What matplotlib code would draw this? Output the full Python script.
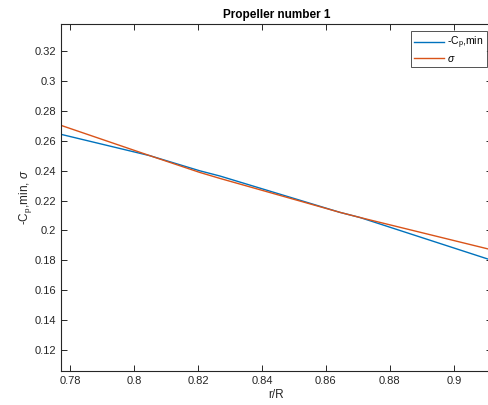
import matplotlib
matplotlib.use("Agg")
import matplotlib.pyplot as plt

plt.rcParams['font.family'] = ['Liberation Sans', 'DejaVu Sans']
plt.rcParams['mathtext.fontset'] = 'custom'
plt.rcParams['mathtext.rm'] = 'Liberation Sans'
plt.rcParams['mathtext.it'] = 'Liberation Sans:italic'

r = [0.7772, 0.805, 0.8206, 0.8269, 0.8644, 0.8706, 0.9119]
cp_min = [0.2643, 0.2500, 0.2399, 0.2364, 0.2121, 0.2087, 0.1800]
sigma = [0.2703, 0.2500, 0.2388, 0.2348, 0.2121, 0.2087, 0.1870]

xticks = [0.78, 0.80, 0.82, 0.84, 0.86, 0.88, 0.90]
xticklabels = ['0.78', '0.8', '0.82', '0.84', '0.86', '0.88', '0.9']
yticks = [0.12, 0.14, 0.16, 0.18, 0.20, 0.22, 0.24, 0.26, 0.28, 0.30, 0.32]
yticklabels = ['0.12', '0.14', '0.16', '0.18', '0.2', '0.22', '0.24', '0.26', '0.28', '0.3', '0.32']

W, H = 488, 405
fig = plt.figure(figsize=(W/100, H/100), dpi=100)
ax = fig.add_axes([61/W, (H-371)/H, (492-61)/W, 347/H])

ax.plot(r, cp_min, color='#0072BD', lw=1.0, label=r'-C$_{\mathregular{p}}$,min')
ax.plot(r, sigma, color='#D95319', lw=1.0, label=r'$\sigma$')

ax.set_xlim(0.7772, 0.9119)
ax.set_ylim(0.1060, 0.3381)
ax.set_xticks(xticks)
ax.set_xticklabels(xticklabels)
ax.set_yticks(yticks)
ax.set_yticklabels(yticklabels)
ax.tick_params(direction='in', top=True, right=True, labelsize=8, length=4,
               width=0.7, color='#262626', labelcolor='#262626')
for s in ax.spines.values():
    s.set_linewidth(0.8)
    s.set_color('#262626')

ax.set_xlabel('r/R', fontsize=8.5, color='#262626', labelpad=2)
ax.set_ylabel(r'-C$_{\mathregular{p}}$,min, $\sigma$', fontsize=8.5, color='#262626', labelpad=0.5)
ax.set_title('Propeller number 1', fontsize=8.5, fontweight='bold', pad=4)

leg = ax.legend(loc='upper right', fontsize=7.5, frameon=True, fancybox=False,
                edgecolor='#262626', handlelength=2.9, handletextpad=0.25,
                bbox_to_anchor=(487/W, (H-31)/H), bbox_transform=fig.transFigure,
                borderaxespad=0.0, borderpad=0.35, labelspacing=0.25)
leg.get_frame().set_linewidth(0.7)

fig.savefig('out.png', dpi=100)
